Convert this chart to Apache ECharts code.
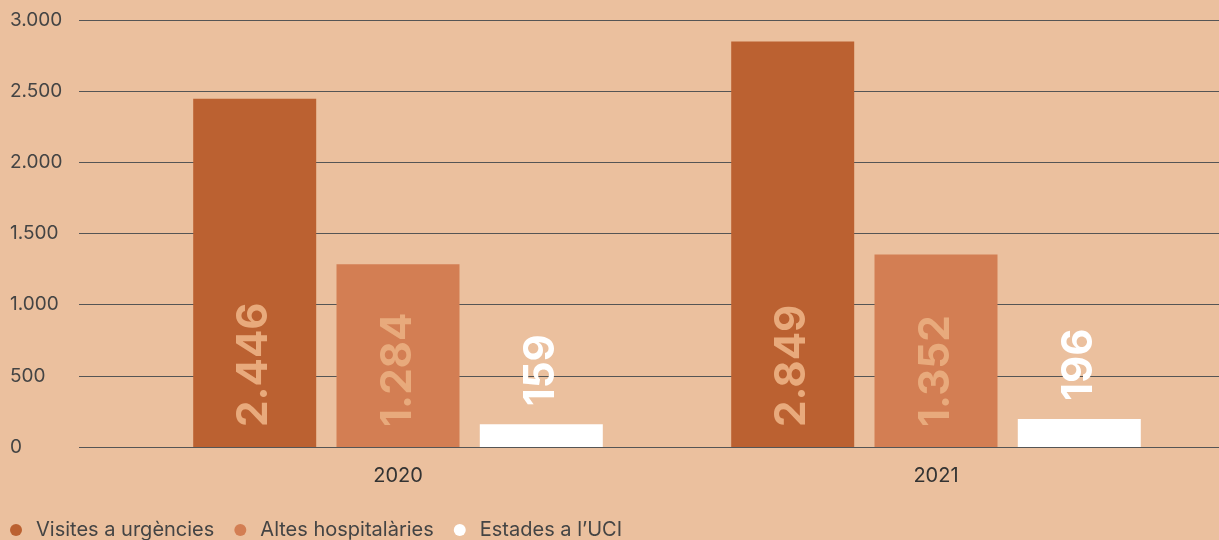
<!DOCTYPE html>
<html><head><meta charset="utf-8">
<script src="https://cdn.jsdelivr.net/npm/echarts@6/dist/echarts.min.js"></script>
<style>html,body{margin:0;padding:0;background:#EBC09E;}#c{width:1219px;height:540px;}</style>
</head><body><div id="c"></div>
<script>
const categories = ['2020', '2021'];
const seriesNames = ['Visites a urgències', 'Altes hospitalàries', 'Estades a l\u2019UCI'];
const visites = [2446, 2849];
const altes = [1284, 1352];
const uci = [159, 196];
const yTicks = [0, 500, 1000, 1500, 2000, 2500, 3000];

const fmt = v => String(v).replace(/\B(?=(\d{3})+(?!\d))/g, '.');
const colors = ['#BB6131', '#D37E53', '#FFFFFF'];
const labelColors = ['#E8AA7C', '#E8AA7C', '#FFFFFF'];
const dataSets = [visites, altes, uci];
const FONT = 'Inter, Noto Sans, sans-serif';

const chart = echarts.init(document.getElementById('c'));
const series = dataSets.map((d, i) => ({
  name: seriesNames[i], type: 'bar', xAxisIndex: 1, yAxisIndex: 1,
  data: d, barWidth: 123, barGap: '16.5%',
  itemStyle: { color: colors[i] },
  label: {
    show: true, rotate: 90,
    position: i === 2 ? 'top' : 'insideBottom',
    distance: i === 2 ? 18 : 20,
    align: 'left', verticalAlign: 'middle',
    color: labelColors[i], fontSize: 42, fontWeight: 'bold',
    fontFamily: FONT,
    formatter: p => fmt(p.value)
  }
}));
chart.setOption({
  backgroundColor: '#EBC09E',
  animation: false,
  grid: [
    { left: 79, right: 0, top: 20, bottom: 93 },
    { left: 129, right: 14, top: 20, bottom: 93 }
  ],
  legend: {
    left: 5, top: 515, icon: 'circle', itemWidth: 12, itemHeight: 12, itemGap: 20,
    textStyle: { fontSize: 20, color: '#444', fontFamily: FONT, padding: [0, 0, 0, 9] },
    data: seriesNames
  },
  xAxis: [
    { type: 'value', gridIndex: 0, show: false, min: 0, max: 1 },
    { type: 'category', gridIndex: 1, data: categories,
      axisLine: { show: false }, axisTick: { show: false },
      axisLabel: { margin: 19, fontSize: 20, color: '#333', fontFamily: FONT } }
  ],
  yAxis: [
    { type: 'value', gridIndex: 0, min: yTicks[0], max: yTicks[yTicks.length - 1], interval: 500,
      axisLine: { show: false }, axisTick: { show: false },
      splitLine: { lineStyle: { color: '#555', width: 1 } },
      axisLabel: { align: 'left', margin: 69, fontSize: 19, color: '#444',
        fontFamily: FONT, formatter: v => fmt(v) } },
    { type: 'value', gridIndex: 1, min: 0, max: 3000, show: false, splitLine: { show: false } }
  ],
  series: series
});
</script></body></html>
